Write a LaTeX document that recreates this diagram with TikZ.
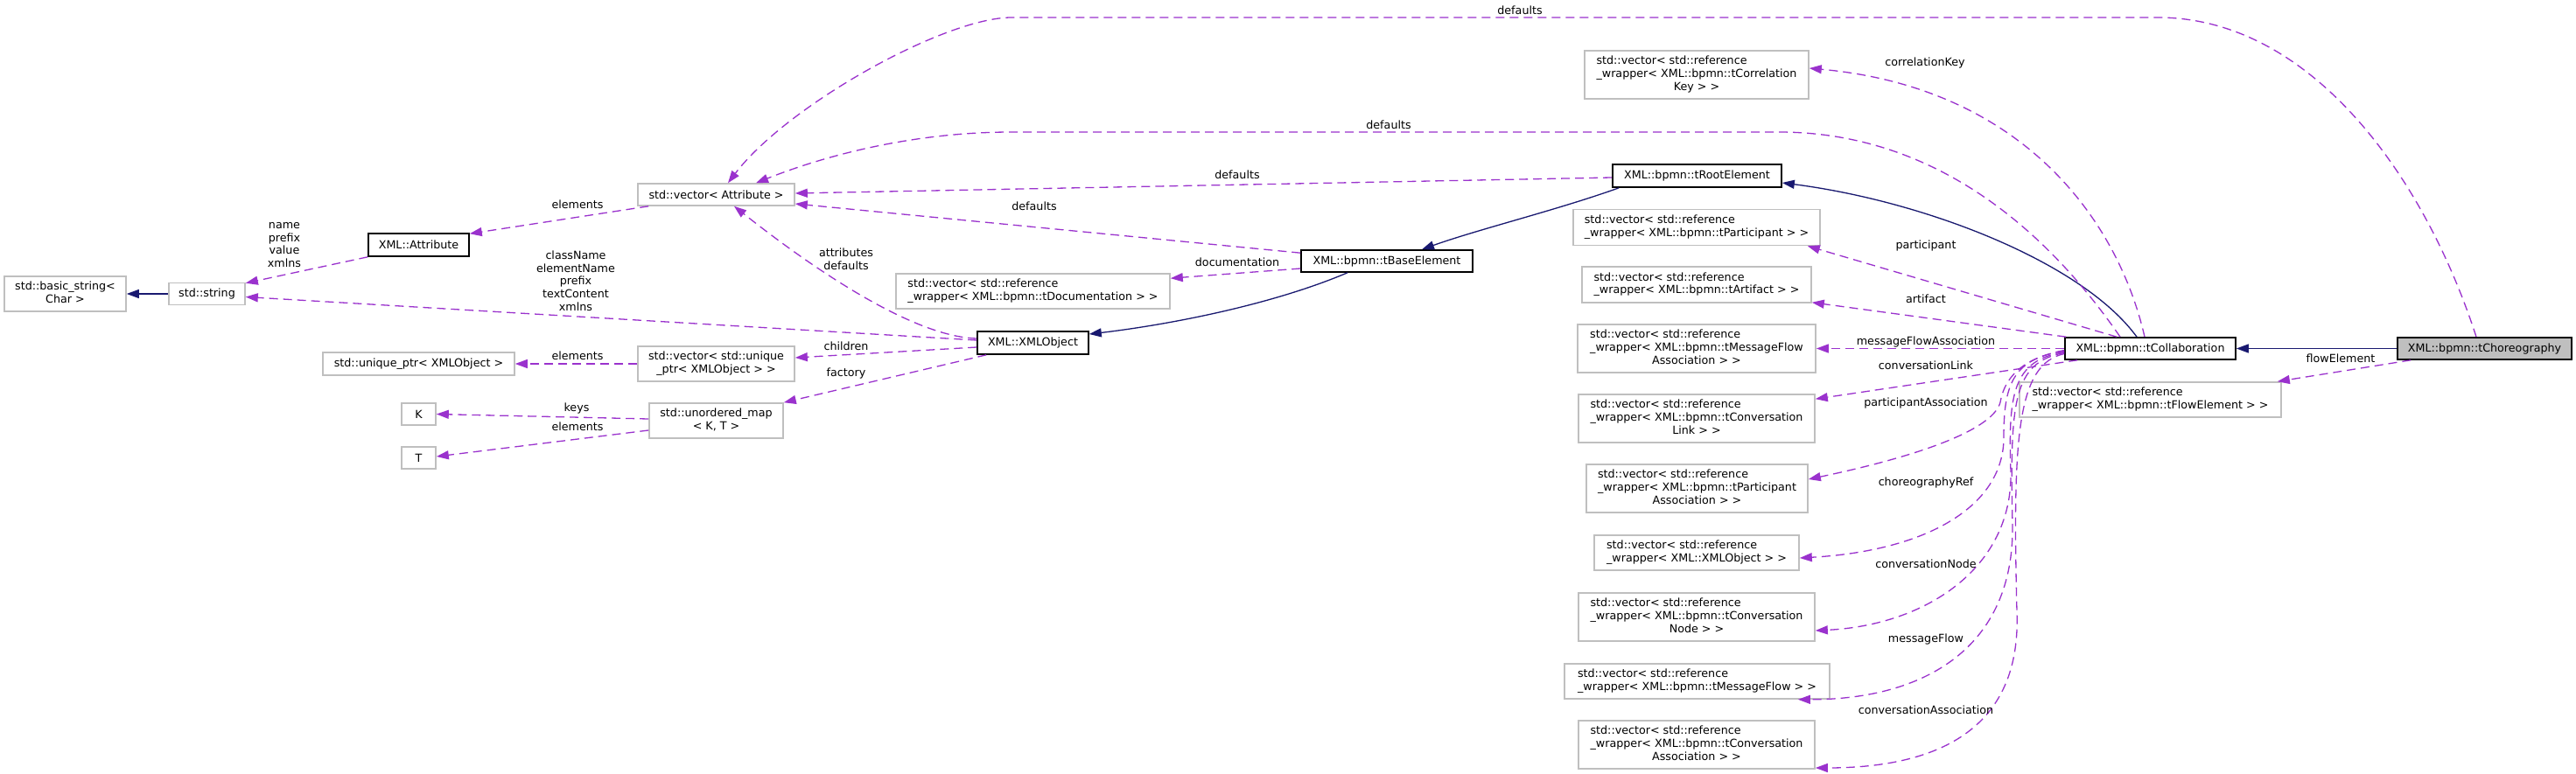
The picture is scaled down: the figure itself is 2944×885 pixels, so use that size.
\documentclass[tikz,border=0pt]{standalone}
\usepackage{fontspec}
\setmainfont{DejaVu Sans}
\usetikzlibrary{arrows.meta,calc}
\definecolor{orch}{HTML}{9A32CD}
\definecolor{mblue}{HTML}{191970}
\definecolor{greyseventyfive}{HTML}{BFBFBF}
\newcommand\fsz{\fontsize{12.7}{14.7}\selectfont}
\newcommand\lc[1]{\multicolumn{1}{@{}c@{}}{#1}}
\newcommand\tl[1]{\begin{tabular}{@{}l@{}}#1\end{tabular}}
\begin{document}
\begin{tikzpicture}[x=1pt,y=-1pt,
  cls/.style={draw=greyseventyfive, line width=1.6pt, fill=white, inner sep=0pt, font=\fsz, align=center},
  dcls/.style={cls, draw=black},
  me/.style={cls, draw=black, fill=greyseventyfive},
  use/.style={draw=orch, line width=1.3pt, dash pattern=on 10pt off 6pt, -{Triangle[length=14pt,width=10pt]}},
  inh/.style={draw=mblue, line width=1.3pt, -{Triangle[length=14pt,width=10pt]}},
  lbl/.style={font=\fsz, inner sep=0pt, align=center}]
\useasboundingbox[fill=white] (0,0) rectangle (2944,885);

% ---------- nodes ----------
\node[cls, minimum width=139pt, minimum height=40pt] (bstr) at (74.5,336) {\tl{std::basic\_string<\\\lc{Char >}}};
\node[cls, minimum width=87pt, minimum height=25pt] (str) at (236.5,336) {std::string};
\node[dcls, minimum width=115pt, minimum height=26pt] (attr) at (478.5,280) {XML::Attribute};
\node[cls, minimum width=219pt, minimum height=26pt] (uptr) at (478.5,416) {std::unique\_ptr< XMLObject >};
\node[cls, minimum width=39pt, minimum height=25pt] (K) at (478.5,473.5) {K};
\node[cls, minimum width=39pt, minimum height=25pt] (T) at (478.5,523.5) {T};
\node[cls, minimum width=179pt, minimum height=25pt] (vattr) at (818.5,222.5) {std::vector< Attribute >};
\node[cls, minimum width=179pt, minimum height=40pt] (vuptr) at (818.5,416) {\tl{std::vector< std::unique\\\lc{\_ptr< XMLObject > >}}};
\node[cls, minimum width=153pt, minimum height=40pt] (umap) at (818.5,481) {\tl{std::unordered\_map\\\lc{< K, T >}}};
\node[dcls, minimum width=127pt, minimum height=26pt] (xmlobj) at (1180.5,392) {XML::XMLObject};
\node[cls, minimum width=313pt, minimum height=40pt] (vdoc) at (1180.5,333) {\tl{std::vector< std::reference\\\lc{\_wrapper< XML::bpmn::tDocumentation > >}}};
\node[dcls, minimum width=196pt, minimum height=25pt] (tbase) at (1585,298.5) {XML::bpmn::tBaseElement};
\node[dcls, minimum width=193pt, minimum height=26pt] (troot) at (1939.5,201) {XML::bpmn::tRootElement};
\node[cls, minimum width=256pt, minimum height=55pt] (vcorr) at (1939,85.5) {\tl{std::vector< std::reference\\\_wrapper< XML::bpmn::tCorrelation\\\lc{Key > >}}};
\node[cls, minimum width=282pt, minimum height=41pt] (vpart) at (1939,260) {\tl{std::vector< std::reference\\\lc{\_wrapper< XML::bpmn::tParticipant > >}}};
\node[cls, minimum width=262pt, minimum height=41pt] (vart) at (1939,325.5) {\tl{std::vector< std::reference\\\lc{\_wrapper< XML::bpmn::tArtifact > >}}};
\node[cls, minimum width=272pt, minimum height=55pt] (vmfa) at (1939,398.5) {\tl{std::vector< std::reference\\\_wrapper< XML::bpmn::tMessageFlow\\\lc{Association > >}}};
\node[cls, minimum width=270pt, minimum height=55pt] (vcl) at (1939,478.5) {\tl{std::vector< std::reference\\\_wrapper< XML::bpmn::tConversation\\\lc{Link > >}}};
\node[cls, minimum width=253pt, minimum height=55pt] (vpa) at (1939.5,558.5) {\tl{std::vector< std::reference\\\_wrapper< XML::bpmn::tParticipant\\\lc{Association > >}}};
\node[cls, minimum width=234pt, minimum height=40pt] (vxo) at (1939,632) {\tl{std::vector< std::reference\\\lc{\_wrapper< XML::XMLObject > >}}};
\node[cls, minimum width=270pt, minimum height=55pt] (vcn) at (1939,705.5) {\tl{std::vector< std::reference\\\_wrapper< XML::bpmn::tConversation\\\lc{Node > >}}};
\node[cls, minimum width=303pt, minimum height=40pt] (vmf) at (1939.5,779) {\tl{std::vector< std::reference\\\lc{\_wrapper< XML::bpmn::tMessageFlow > >}}};
\node[cls, minimum width=270pt, minimum height=55pt] (vca) at (1939,851.5) {\tl{std::vector< std::reference\\\_wrapper< XML::bpmn::tConversation\\\lc{Association > >}}};
\node[dcls, minimum width=195pt, minimum height=25pt] (tcollab) at (2457.5,398.5) {XML::bpmn::tCollaboration};
\node[me, minimum width=199pt, minimum height=25pt] (tchor) at (2839.5,398.5) {XML::bpmn::tChoreography};
\node[cls, minimum width=299pt, minimum height=40pt] (vfe) at (2457.5,457) {\tl{std::vector< std::reference\\\lc{\_wrapper< XML::bpmn::tFlowElement > >}}};

% ---------- inheritance ----------
\draw[inh] (str.west) -- (str.west -| bstr.east);
\draw[inh] (tchor.west) -- (tcollab.east);
\draw[inh] ($(tcollab.north)+(-15.5,0)$) .. controls (2380,300) and (2200,230) .. ($(troot.east)+(0,8)$);
\draw[inh] ($(troot.south west)+(8,0)$) .. controls (1780,240) and (1690,262) .. ($(tbase.north)+(40,0)$);
\draw[inh] ($(tbase.south)+(-45,0)$) .. controls (1450,350) and (1330,372) .. ($(xmlobj.east)+(0,-10)$);

% ---------- usage ----------
\draw[use] (attr.south west) -- ($(str.north east)+(0,1)$);
\draw[use] ($(xmlobj.west)+(0,-3)$) -- ($(str.east)+(0,3.5)$);
\draw[use] ($(vattr.south west)+(13,0)$) -- ($(attr.north east)+(0,1)$);
\draw[use] ($(xmlobj.west)+(0,-5)$) .. controls (1040,385) and (920,300) .. ($(vattr.south)+(20.5,0)$);
\draw[use] ($(xmlobj.west)+(0,5)$) -- ($(vuptr.east)+(0,-7)$);
\draw[use] ($(xmlobj.south west)+(11,0)$) -- (umap.north east);
\draw[use] (vuptr.west) -- (uptr.east);
\draw[use] ($(umap.west)+(0,-2)$) -- (K.east);
\draw[use] ($(umap.west)+(0,11)$) -- ($(T.east)+(0,-1.5)$);
\draw[use] ($(tbase.north west)+(0,4)$) -- ($(vattr.east)+(0,10.5)$);
\draw[use] ($(troot.west)+(0,2)$) -- ($(vattr.east)+(0,-1.5)$);
\draw[use] ($(tcollab.north)+(-34.5,0)$) .. controls (2330,250) and (2200,151) .. (2033,151) -- (1156,151) .. controls (1050,151) and (950,175) .. ($(vattr.north)+(45.5,0)$);
\draw[use] ($(tcollab.north)+(-6.5,0)$) .. controls (2420,250) and (2310,100) .. ($(vcorr.east)+(0,-7.5)$);
\draw[use] ($(tchor.north)+(-9.5,0)$) .. controls (2770,200) and (2640,20) .. (2466,20) -- (1156,20) .. controls (1080,20) and (900,120) .. ($(vattr.north)+(13.5,0)$);
\draw[use] ($(tbase.west)+(0,8.5)$) -- ($(vdoc.north east)+(0,6)$);
\draw[use] ($(tchor.south west)+(16,0)$) -- ($(vfe.north east)+(-5,0)$);
\draw[use] ($(tcollab.north west)+(60,0)$) -- ($(vpart.south east)+(-15,0)$);
\draw[use] ($(tcollab.north west)+(2,0)$) -- ($(vart.south east)+(0,-1)$);
\draw[use] (tcollab.west) -- (vmfa.east);
\draw[use] ($(tcollab.south west)+(15,0)$) -- ($(vcl.north east)+(0,6)$);
\draw[use] ($(tcollab.west)+(0,2)$) .. controls (2320,408) and (2292,425) .. (2286,460) .. controls (2278,490) and (2200,520) .. ($(vpa.east)+(0,-10.5)$);
\draw[use] ($(tcollab.west)+(0,3)$) .. controls (2300,410) and (2290,440) .. (2290,500) .. controls (2290,580) and (2200,630) .. ($(vxo.east)+(0,6)$);
\draw[use] ($(tcollab.west)+(0,4)$) .. controls (2300,412) and (2295,450) .. (2298,540) .. controls (2300,650) and (2200,715) .. ($(vcn.east)+(0,15.5)$);
\draw[use] ($(tcollab.west)+(0,5)$) .. controls (2300,414) and (2297,460) .. (2300,600) .. controls (2302,740) and (2200,800) .. ($(vmf.south east)+(-37,0)$);
\draw[use] ($(tcollab.west)+(0,6)$) .. controls (2305,416) and (2300,500) .. (2305,700) .. controls (2310,830) and (2220,878) .. ($(vca.east)+(0,26.5)$);

% ---------- labels ----------
\node[lbl] (l1) at (325,280) {name\\prefix\\value\\xmlns};
\node[lbl] (l2) at (658,321) {className\\elementName\\prefix\\textContent\\xmlns};
\node[lbl] (l3) at (660,234) {elements};
\node[lbl] (l4) at (967,296) {attributes\\defaults};
\node[lbl] (l5) at (967,396) {children};
\node[lbl] (l6) at (967,427) {factory};
\node[lbl] (l7) at (660,407) {elements};
\node[lbl] (l8) at (659,467) {keys};
\node[lbl] (l9) at (660,488) {elements};
\node[lbl] (l10) at (1182,236) {defaults};
\node[lbl] (l11) at (1414,200) {defaults};
\node[lbl] (l12) at (1587,143) {defaults};
\node[lbl] (l13) at (1737,12) {defaults};
\node[lbl] (l14) at (2200,72) {correlationKey};
\node[lbl] (l15) at (1414,300) {documentation};
\node[lbl] (l16) at (2675,410) {flowElement};
\node[lbl] (l17) at (2201,281) {participant};
\node[lbl] (l18) at (2201,342) {artifact};
\node[lbl] (l19) at (2201,391) {messageFlowAssociation};
\node[lbl] (l20) at (2201,418) {conversationLink};
\node[lbl] (l21) at (2201,461) {participantAssociation};
\node[lbl] (l22) at (2201,552) {choreographyRef};
\node[lbl] (l23) at (2201,645) {conversationNode};
\node[lbl] (l24) at (2201,731) {messageFlow};
\node[lbl] (l25) at (2201,812) {conversationAssociation};
\end{tikzpicture}
\end{document}
